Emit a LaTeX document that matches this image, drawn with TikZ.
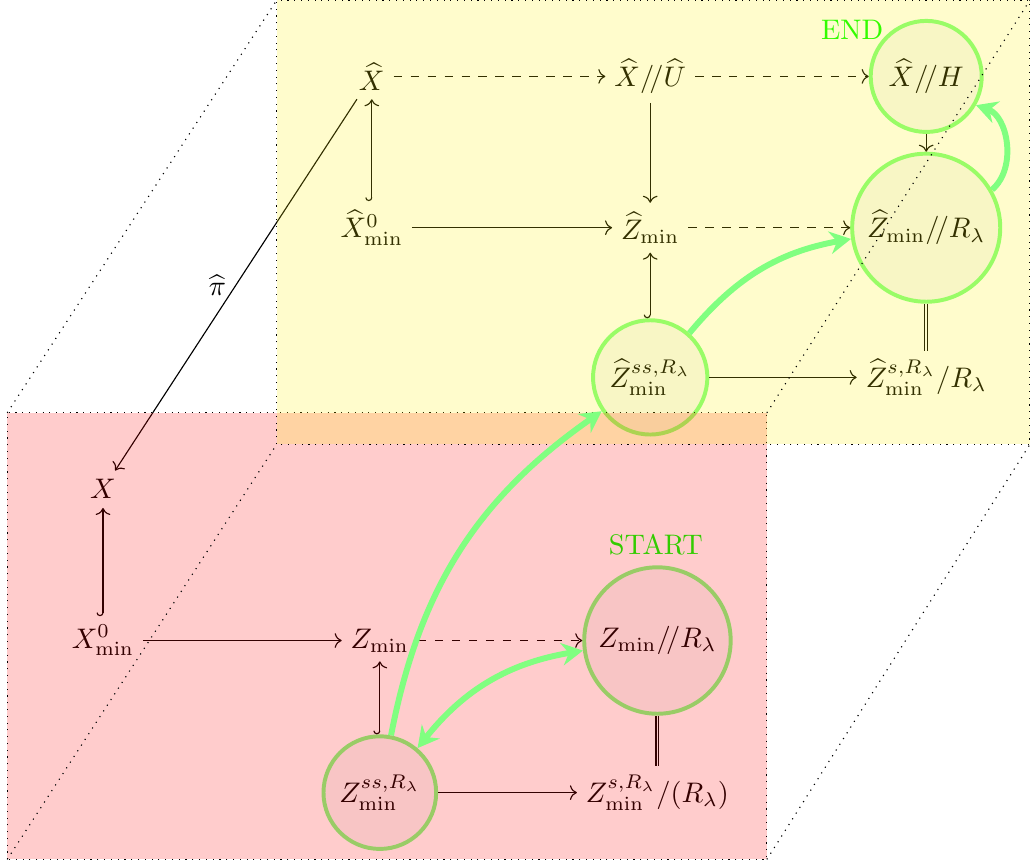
\documentclass[tikz,border=0pt]{standalone}
\usepackage{amsmath}
\usepackage{amssymb}
\usetikzlibrary{arrows.meta}
\tikzset{
  obj/.style      = { inner sep=3pt },
  orbit/.style    = { circle, draw=green!50, line width=1.4pt, fill=black!3, inner sep=1pt, minimum size=#1 },
  map/.style      = { -> },
  rational/.style = { ->, dashed },
  incl/.style     = { {Hooks[right]}-> },
  iso/.style      = { double },
  path_g/.style   = { line width=2.1pt, green!50, -{Stealth[length=7.5pt,width=8pt,inset=2.5pt]} },
  path_gg/.style  = { line width=2.1pt, green!50, {Stealth[length=7.5pt,width=8pt,inset=2.5pt]}-{Stealth[length=7.5pt,width=8pt,inset=2.5pt]} },
  plane/.style    = { dotted, fill opacity=0.2 },
  tag/.style      = { green, inner sep=0pt }
}

\begin{document}
\begin{tikzpicture}
  \useasboundingbox (-0.09,-0.04) rectangle (12.71,10.68);
  % Upper level
  \node[obj] (Xh)  at (4.53,9.73) {$\widehat{X}$};
  \node[obj] (XhU) at (7.99,9.73) {$\widehat{X}/\!/\widehat{U}$};
  \node[orbit=1.38cm] (XhH) at (11.42,9.73) {$\widehat{X}/\!/H$};
  \node[obj] (Xh0) at (4.53,7.85) {$\widehat{X}^0_{\min}$};
  \node[obj] (Zh)  at (7.99,7.85) {$\widehat{Z}_{\min}$};
  \node[orbit=1.84cm] (ZhR) at (11.42,7.85) {$\widehat{Z}_{\min}/\!/R_\lambda$};
  \node[orbit=1.42cm] (Zhss) at (7.99,5.99) {$\widehat{Z}^{ss,R_\lambda}_{\min}$};
  \node[obj] (Zhs) at (11.42,5.99) {$\widehat{Z}^{s,R_\lambda}_{\min}/R_\lambda$};
  % Lower level
  \node[obj] (X)   at (1.19,4.60) {$X$};
  \node[obj] (X0)  at (1.19,2.72) {$X^0_{\min}$};
  \node[obj] (Z)   at (4.63,2.72) {$Z_{\min}$};
  \node[orbit=1.82cm] (ZR) at (8.08,2.72) {$Z_{\min}/\!/R_\lambda$};
  \node[orbit=1.40cm] (Zss) at (4.63,0.83) {$Z^{ss,R_\lambda}_{\min}$};
  \node[obj] (Zs)  at (8.08,0.83) {$Z^{s,R_\lambda}_{\min}/(R_\lambda)$};
  % Draw maps
  \draw[rational] (Xh) -- (XhU);
  \draw[rational] (XhU) -- (XhH);
  \draw[map] (XhU) -- (Zh);
  \draw[incl] (Xh0) -- (Xh);
  \draw[map] (Xh0) -- (Zh);
  \draw[rational] (Zh) -- (ZhR);
  \draw[map] (XhH) -- (ZhR);
  \draw[incl] (Zhss) -- (Zh);
  \draw[map] (Zhss) -- (Zhs);
  \draw[iso] (ZhR) -- (Zhs);
  \draw[map] (Xh) -- node[left] (pi) {$\widehat{\pi}$} (X);
  \draw[incl] (X0) -- (X);
  \draw[map] (X0) -- (Z);
  \draw[rational] (Z) -- (ZR);
  \draw[incl] (Zss) -- (Z);
  \draw[map] (Zss) -- (Zs);
  \draw[iso] (ZR) -- (Zs);
  % Draw labels
  \node[tag] (lblEnd)   at (10.50,10.31) {END};
  \node[tag] (lblStart) at (8.06,3.91)   {START};
  % Draw the two levels
  \draw[plane, fill=red]    (0,0) rectangle (9.44,5.55);
  \draw[plane, fill=yellow] (3.35,5.16) rectangle (12.71,10.68);
  \draw[dotted] (0,0) -- (3.35,5.16) (9.44,0) -- (12.71,5.16)
                (0,5.55) -- (3.35,10.68) (9.44,5.55) -- (12.71,10.68);
  % Draw the path
  \draw[path_g]  (Zss) to[bend left=22] (Zhss);
  \draw[path_g]  (Zhss) to[bend left=20] (ZhR);
  \draw[path_g]  (ZhR) to[bend right=60] (XhH);
  \draw[path_gg] (Zss) to[bend left=21] (ZR);
\end{tikzpicture}
\end{document}
